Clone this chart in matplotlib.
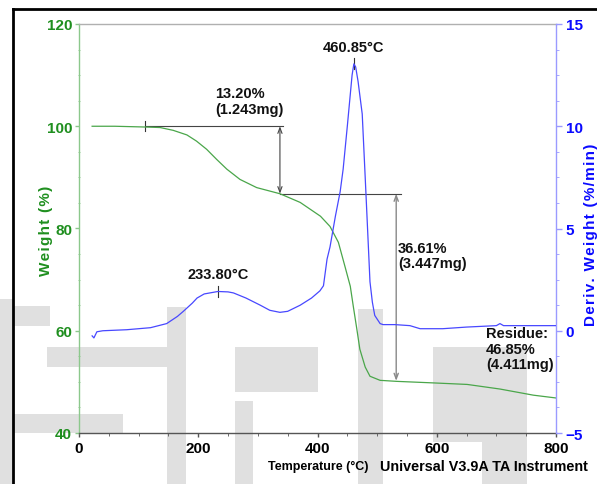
import matplotlib
matplotlib.use("Agg")
import matplotlib.pyplot as plt
from matplotlib.lines import Line2D
from matplotlib.patches import Rectangle
from matplotlib.ticker import MultipleLocator

plt.rcParams['font.family'] = ['Liberation Sans', 'DejaVu Sans']
plt.rcParams['font.weight'] = 'bold'

# ---- data ----
temp_w = [22, 60, 111, 136, 158, 181, 197, 214, 231, 248, 270, 298, 337, 371, 405, 421,
          435, 446, 455, 460, 466, 471, 480, 488, 505, 533, 594, 651, 706, 762, 800]
weight = [100.0, 100.0, 99.85, 99.75, 99.2, 98.3, 97.1, 95.5, 93.5, 91.6, 89.6, 88.0,
          86.8, 85.1, 82.4, 80.4, 77.3, 72.6, 68.7, 64.8, 60.3, 56.4, 52.9, 51.1, 50.3,
          50.1, 49.8, 49.5, 48.6, 47.4, 46.85]

temp_d = [22, 25, 30, 40, 80, 120, 147, 165, 175, 190, 198, 210, 233, 250, 259, 280,
          304, 320, 337, 350, 371, 390, 404, 410, 416, 421, 430, 438, 443, 450, 458,
          461, 464, 468, 475, 480, 483, 488, 492, 496, 505, 510, 530, 555, 572, 610,
          650, 700, 706, 712, 760, 800]
deriv = [-0.25, -0.35, -0.05, 0.0, 0.05, 0.15, 0.35, 0.7, 0.95, 1.35, 1.6, 1.8, 1.92,
         1.9, 1.85, 1.6, 1.25, 1.0, 0.9, 0.95, 1.25, 1.6, 1.95, 2.2, 3.5, 4.1, 5.6,
         6.8, 7.9, 10.0, 12.5, 13.05, 12.9, 12.2, 10.6, 7.5, 5.6, 2.4, 1.4, 0.75, 0.35,
         0.3, 0.3, 0.25, 0.1, 0.1, 0.18, 0.25, 0.35, 0.25, 0.25, 0.25]

x_ticks = [0, 200, 400, 600, 800]
w_ticks = [40, 60, 80, 100, 120]
d_ticks = [-5, 0, 5, 10, 15]

step1_text = "13.20%\n(1.243mg)"
step2_text = "36.61%\n(3.447mg)"
residue_text = "Residue:\n46.85%\n(4.411mg)"
peak1_label = "233.80°C"
peak2_label = "460.85°C"
step1 = (111, 337, 100.0, 86.8)
step2 = (337, 532, 86.8, 50.2)

W, H = 597, 485
fig = plt.figure(figsize=(W / 100, H / 100), dpi=100)

def px(x, y):
    return x / W, 1 - y / H

# watermark (decorative light-gray blocks), figure pixel rectangles
wm = [(47, 348, 177, 368), (167, 308, 186, 485), (0, 415, 123, 434), (0, 300, 13, 485),
      (0, 307, 50, 327), (235, 348, 318, 393), (235, 402, 253, 485), (358, 310, 383, 485),
      (433, 348, 527, 443), (482, 390, 527, 485)]
for x0, y0, x1, y1 in wm:
    fig.patches.append(Rectangle(px(x0, y1), (x1 - x0) / W, (y1 - y0) / H,
                                 transform=fig.transFigure, facecolor='#e0e0e0',
                                 edgecolor='none', zorder=-5))

# frame
fig.lines.append(Line2D([13 / W, 1], [1 - 10 / H, 1 - 10 / H], transform=fig.transFigure,
                        color='black', lw=2))
fig.lines.append(Line2D([13 / W, 13 / W], [0, 1 - 10 / H], transform=fig.transFigure,
                        color='black', lw=2))

l, b = px(79, 434)
r, t = px(556, 25)
ax = fig.add_axes([l, b, r - l, t - b])
ax.patch.set_alpha(0)
ax2 = ax.twinx()
ax2.patch.set_alpha(0)

green_line = '#4aa64a'
green_lab = '#1f8f1f'
blue_line = '#4848ff'
blue_lab = '#0a0aff'

ax.plot(temp_w, weight, color=green_line, lw=0.9, zorder=3)
ax2.plot(temp_d, deriv, color=blue_line, lw=0.9, zorder=3)

ax.set_xlim(0, 800)
ax.set_ylim(40, 120)
ax2.set_ylim(-5, 15)
ax.set_xticks(x_ticks)
ax.set_yticks(w_ticks)
ax2.set_yticks(d_ticks)
ax.xaxis.set_minor_locator(MultipleLocator(50))
ax.yaxis.set_minor_locator(MultipleLocator(5))
ax2.yaxis.set_minor_locator(MultipleLocator(1.25))

for a in (ax, ax2):
    for s in a.spines.values():
        s.set_linewidth(1)
ax.spines['left'].set_color('#8cc88c')
ax.spines['top'].set_color('#b0b0b0')
ax.spines['bottom'].set_color('#555555')
ax.spines['right'].set_visible(False)
ax2.spines['right'].set_color('#9a9aff')
ax2.spines['left'].set_visible(False)
ax2.spines['top'].set_visible(False)
ax2.spines['bottom'].set_visible(False)

ax.tick_params(axis='y', colors='#8cc88c', labelcolor=green_lab, labelsize=11,
               length=3, width=1, pad=2)
ax.tick_params(axis='y', which='minor', colors='#8cc88c', length=2, direction='inout')
ax.tick_params(axis='x', colors='#555555', labelcolor='black', labelsize=11,
               length=3, width=1, pad=3)
ax.tick_params(axis='x', which='minor', colors='#555555', length=2)
ax2.tick_params(axis='y', colors='#9a9aff', labelcolor=blue_lab, labelsize=11,
                length=4, width=1, pad=3)
ax2.tick_params(axis='y', which='minor', colors='#9a9aff', length=2.5)
for lab in ax.get_xticklabels() + ax.get_yticklabels() + ax2.get_yticklabels():
    lab.set_fontweight('bold')

ann = dict(fontsize=10.5, fontweight='bold', color='#111111', linespacing=1.15)

# step 1
ax.plot([step1[0], step1[0]], [99.0, 101.0], color='#333333', lw=0.8)
ax.plot([step1[0], step1[1] + 5], [step1[2], step1[2]], color='#444444', lw=0.8)
ax.annotate('', xy=(step1[1], step1[3]), xytext=(step1[1], step1[2]),
            arrowprops=dict(arrowstyle='<->,head_length=0.4,head_width=0.15',
                            color='#444444', lw=0.8, shrinkA=0, shrinkB=0))
ax.text(228, 107.8, step1_text, ha='left', va='top', **ann)

# step 2
ax.plot([step2[0], step2[1] + 8], [step2[2], step2[2]], color='#444444', lw=0.8)
ax.annotate('', xy=(step2[1], step2[3]), xytext=(step2[1], step2[2]),
            arrowprops=dict(arrowstyle='<->,head_length=0.4,head_width=0.15',
                            color='#888888', lw=1.0, shrinkA=0, shrinkB=0))
ax.text(535, 77.6, step2_text, ha='left', va='top', **ann)
ax.text(683, 60.9, residue_text, ha='left', va='top', **ann)

# peaks
ax2.plot([233.8, 233.8], [1.65, 2.2], color='#333333', lw=0.8)
ax2.text(233.8, 2.45, peak1_label, ha='center', va='bottom', **ann)
ax2.plot([460.85, 460.85], [12.8, 13.35], color='#333333', lw=0.8)
ax2.text(460.85, 13.55, peak2_label, ha='center', va='bottom', **ann)

# axis titles
hs = '\u200a'
x, y = px(318, 467)
fig.text(x, y, "Temperature (°C)", ha='center', va='center', fontsize=9,
         fontweight='bold', color='black')
x, y = px(380, 467)
fig.text(x, y, "Universal V3.9A TA Instrument", ha='left', va='center', fontsize=10.4,
         fontweight='bold', color='black')
x, y = px(46, 231)
fig.text(x, y, hs.join("Weight (%)"), rotation=90, ha='center', va='center',
         fontsize=11, fontweight='bold', color=green_lab)
x, y = px(591, 235)
fig.text(x, y, hs.join("Deriv. Weight (%/min)"), rotation=90, ha='center',
         va='center', fontsize=11, fontweight='bold', color=blue_lab)

fig.savefig("out.png", dpi=100)
